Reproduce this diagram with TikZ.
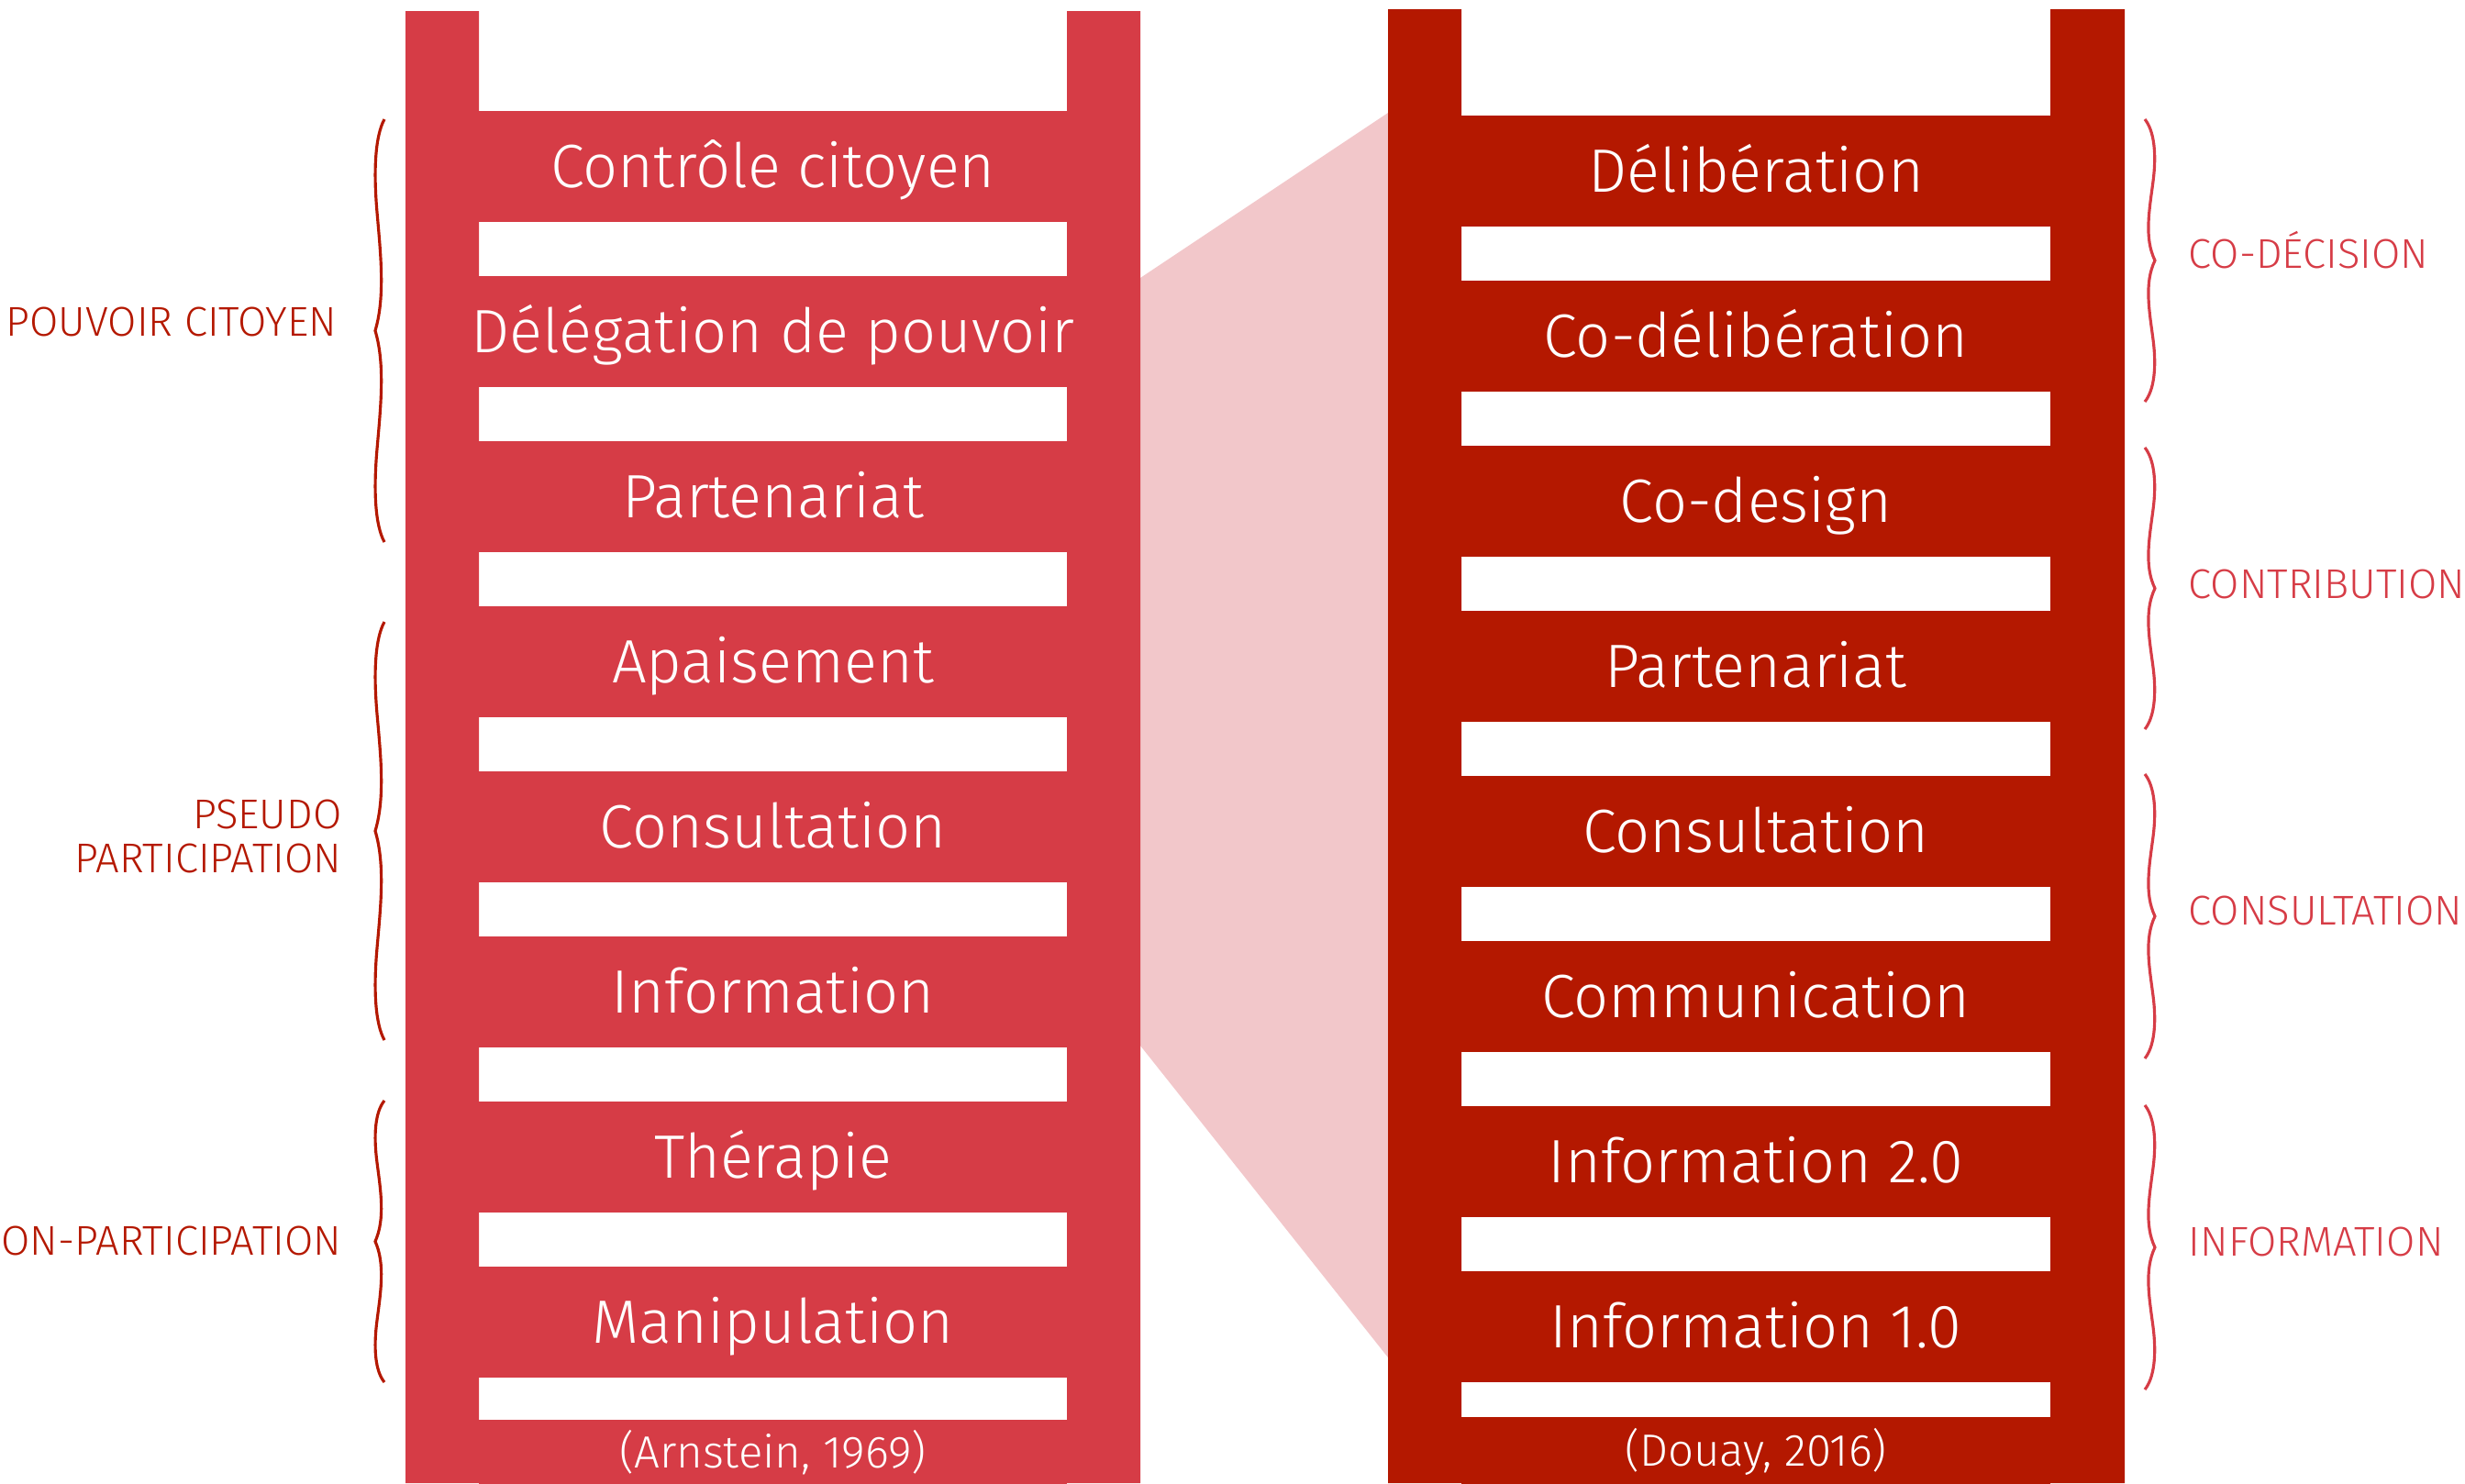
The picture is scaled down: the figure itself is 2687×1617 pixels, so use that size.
\documentclass[tikz,border=0pt]{standalone}
\usepackage{fontspec}
\setmainfont{Fira Sans}[UprightFont={* Light}]
\usetikzlibrary{matrix,positioning}
\definecolor{arnred}{HTML}{D63C46}
\definecolor{douayred}{HTML}{B41800}
\definecolor{zoompink}{HTML}{F2C7CA}
\begin{document}
\begin{tikzpicture}[x=0.1mm,y=-0.1mm,
	rung/.style={minimum width=64.1mm,minimum height=12.1mm,inner sep=0pt,text=white,
		font=\fontsize{19}{19}\selectfont,text height=14pt,text depth=1pt},
	source/.style={minimum width=64.1mm,inner sep=0pt,anchor=north,text=white,
		font=\fontsize{14}{14}\selectfont,text height=10.2pt,text depth=0.6pt},
	level/.style={inner sep=0pt,font=\fontsize{12.9}{13.9}\selectfont},
	wave/.style={line width=0.9pt}]
	\useasboundingbox (0,0) rectangle (2687,1617);
	\clip (0,0) rectangle (2687,1617);
	\fill[zoompink] (1243,303) -- (1513,123) -- (1513,1480) -- (1243,1140) -- cycle;
	\fill[arnred] (442,12) rectangle (522,1617) (1163,12) rectangle (1243,1617);
	\fill[douayred] (1513,10) rectangle (1593,1617) (2235,10) rectangle (2316,1617);
	\matrix (L) [matrix of nodes, row sep=5.9mm, inner sep=0pt, anchor=north,
		nodes={rung,fill=arnred}] at (842.5,120)
	{ Contrôle citoyen \\ Délégation de pouvoir \\ Partenariat \\ Apaisement \\
		Consultation \\ Information \\ Thérapie \\ Manipulation \\ };
	\matrix (R) [matrix of nodes, row sep=5.9mm, inner sep=0pt, anchor=north,
		nodes={rung,fill=douayred,minimum width=64.2mm}] at (1914,125)
	{ Délibération \\ Co-délibération \\ Co-design \\ Partenariat \\
		Consultation \\ Communication \\ Information 2.0 \\ Information 1.0 \\ };
	\node[source,fill=arnred,minimum height=7.1mm,below=4.5mm of L-8-1] (Lsrc) {(Arnstein, 1969)};
	\node[source,fill=douayred,minimum width=64.2mm,minimum height=7.4mm,below=3.7mm of R-8-1] (Rsrc) {(Douay, 2016)};
	\node[level,text=douayred,anchor=east] (pouvoir) at (368,351) {POUVOIR CITOYEN};
	\node[level,text=douayred,anchor=east,align=right] (pseudo) at (373,912) {PSEUDO\\PARTICIPATION};
	\node[level,text=douayred,anchor=east] (nonpart) at (373,1353) {NON-PARTICIPATION};
	\node[level,text=arnred,anchor=base west] (codecision) at (2385,292) {CO-DÉCISION};
	\node[level,text=arnred,anchor=base west] (contrib) at (2385,652) {CONTRIBUTION};
	\node[level,text=arnred,anchor=base west] (consult) at (2385,1008) {CONSULTATION};
	\node[level,text=arnred,anchor=base west] (inform) at (2385,1369) {INFORMATION};
	\foreach \a/\b in {130/591,678/1134,1200/1507}{
		\pgfmathsetmacro\h{\b-\a}
		\draw[wave,douayred] (419,\a) .. controls (409,{\a+.04*\h}) and (407,{\a+.12*\h}) .. (411,{\a+.22*\h})
			.. controls (415,{\a+.32*\h}) and (420,{\a+.42*\h}) .. (409,{(\a+\b)/2})
			.. controls (420,{\b-.42*\h}) and (415,{\b-.32*\h}) .. (411,{\b-.22*\h})
			.. controls (407,{\b-.12*\h}) and (409,{\b-.04*\h}) .. (419,\b);
	}
	\foreach \a/\b in {130/438,488/795,844/1154,1205/1515}{
		\pgfmathsetmacro\h{\b-\a}
		\draw[wave,arnred] (2338,\a) .. controls (2348,{\a+.04*\h}) and (2351,{\a+.12*\h}) .. (2347,{\a+.22*\h})
			.. controls (2343,{\a+.32*\h}) and (2337,{\a+.42*\h}) .. (2349,{(\a+\b)/2})
			.. controls (2337,{\b-.42*\h}) and (2343,{\b-.32*\h}) .. (2347,{\b-.22*\h})
			.. controls (2351,{\b-.12*\h}) and (2348,{\b-.04*\h}) .. (2338,\b);
	}
\end{tikzpicture}
\end{document}
